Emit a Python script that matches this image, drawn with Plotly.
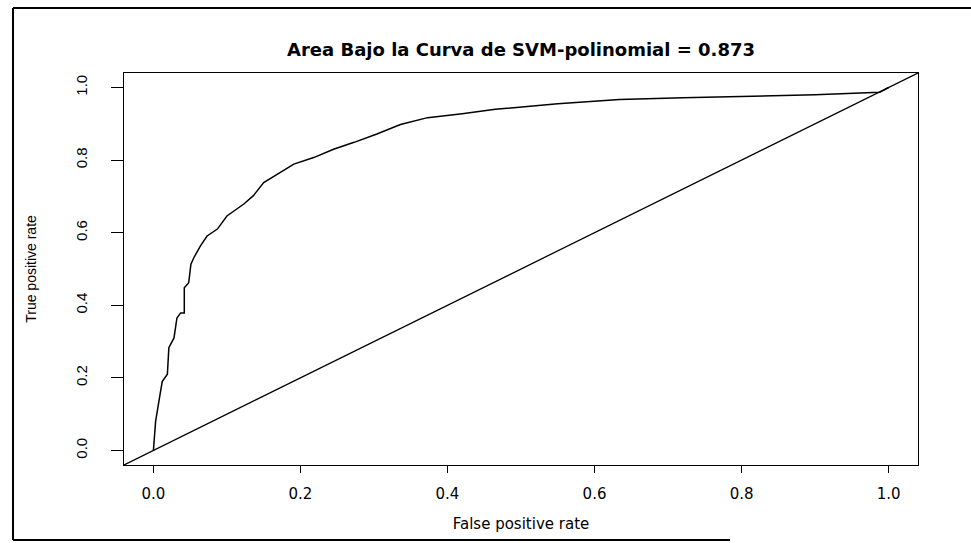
import plotly.graph_objects as go

# ROC curve
fpr = [0, 0.001, 0.003, 0.009, 0.012, 0.019, 0.021, 0.028, 0.032, 0.037, 0.042, 0.042,
       0.048, 0.051, 0.055, 0.064, 0.073, 0.087, 0.1, 0.123, 0.136, 0.15, 0.173, 0.191,
       0.218, 0.245, 0.273, 0.304, 0.336, 0.373, 0.42, 0.465, 0.55, 0.634, 0.72, 0.803,
       0.9, 0.988, 1.0]
tpr = [0, 0.03, 0.08, 0.154, 0.19, 0.21, 0.283, 0.31, 0.365, 0.379, 0.379, 0.448,
       0.462, 0.513, 0.531, 0.564, 0.591, 0.61, 0.646, 0.679, 0.702, 0.738, 0.766, 0.789,
       0.807, 0.83, 0.849, 0.872, 0.898, 0.917, 0.928, 0.94, 0.955, 0.967, 0.972, 0.976,
       0.98, 0.987, 1.0]

# reference diagonal (abline a=0, b=1) across the full axis range
diag_x = [-0.04, 1.04]
diag_y = [-0.04, 1.04]

tick_vals = [0.0, 0.2, 0.4, 0.6, 0.8, 1.0]
tick_text = ["0.0", "0.2", "0.4", "0.6", "0.8", "1.0"]

title_text = "Area Bajo la Curva de SVM-polinomial = 0.873"
x_label = "False positive rate"
y_label = "True positive rate"

W, H = 971, 543
L, R, T, B = 124, 53, 73, 78

fig = go.Figure()
fig.add_trace(go.Scatter(x=fpr, y=tpr, mode="lines",
                         line=dict(color="black", width=1.5), showlegend=False))
fig.add_trace(go.Scatter(x=diag_x, y=diag_y, mode="lines",
                         line=dict(color="black", width=1.3), showlegend=False))

hfont = "DejaVu Sans, Liberation Sans, Arial, sans-serif"
vfont = "Liberation Sans Narrow, Liberation Sans, Arial, sans-serif"

fig.update_layout(
    width=W, height=H,
    margin=dict(l=L, r=R, t=T, b=B, autoexpand=False),
    paper_bgcolor="white", plot_bgcolor="white",
    title=dict(text="<b>" + title_text + "</b>", x=(L + (W - R - L) / 2) / W, xanchor="center",
               y=1 - 50 / H, yanchor="middle",
               font=dict(family=hfont, size=18, color="black")),
    xaxis=dict(range=[-0.04, 1.04], tickvals=tick_vals, ticktext=tick_text,
               showgrid=False, zeroline=False, showline=True, mirror=True,
               linecolor="black", linewidth=1.3, ticks="outside", ticklen=7,
               tickcolor="black", tickwidth=1.3, ticklabelstandoff=8,
               tickfont=dict(family=hfont, size=15, color="black"),
               title=dict(text=x_label, standoff=16,
                          font=dict(family=hfont, size=15, color="black")),
               automargin=False),
    yaxis=dict(range=[-0.04, 1.04], tickvals=tick_vals, ticktext=tick_text,
               showgrid=False, zeroline=False, showline=True, mirror=True,
               linecolor="black", linewidth=1.3, ticks="outside", ticklen=12,
               tickcolor="black", tickwidth=1.3, tickangle=-90, ticklabelstandoff=18,
               tickfont=dict(family=vfont, size=15, color="black"),
               title=dict(text=y_label, standoff=32,
                          font=dict(family=vfont, size=14, color="black")),
               automargin=False),
    shapes=[
        dict(type="line", xref="paper", yref="paper",
             x0=-(L - 13) / (W - L - R), x1=(W - L) / (W - L - R),
             y0=1 + (T - 8) / (H - T - B), y1=1 + (T - 8) / (H - T - B),
             line=dict(color="black", width=2)),
        dict(type="line", xref="paper", yref="paper",
             x0=-(L - 13) / (W - L - R), x1=-(L - 13) / (W - L - R),
             y0=1 + (T - 8) / (H - T - B), y1=-(B - 3) / (H - T - B),
             line=dict(color="black", width=2)),
        dict(type="line", xref="paper", yref="paper",
             x0=-(L - 13) / (W - L - R), x1=(730 - L) / (W - L - R),
             y0=-(B - 3) / (H - T - B), y1=-(B - 3) / (H - T - B),
             line=dict(color="black", width=2)),
    ],
)

fig.write_html("out.html", config={"displayModeBar": False},
               post_script="document.body.style.margin='0';document.body.style.overflow='hidden';")
